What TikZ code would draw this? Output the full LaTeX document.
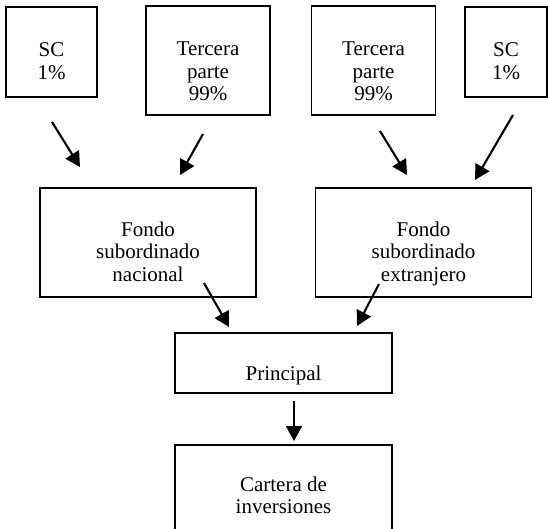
\documentclass[tikz,border=0pt]{standalone}
\usepackage{fontspec}
\setmainfont{Liberation Serif}
\usetikzlibrary{positioning,arrows.meta}

\begin{document}
\begin{tikzpicture}[x=0.5714pt, y=-0.5714pt,
    every node/.style={inner sep=0pt, rectangle},
    box/.style 2 args={draw, line width=0.8pt, minimum width=#1, minimum height=#2},
    txt/.style={align=center, font=\fontsize{12}{13}\selectfont},
    link/.style={line width=1.2pt, -{Triangle[length=8.5pt, width=9pt]}}]
\path[use as bounding box, clip] (0,0) rectangle (548,529);

% top row
\node [box={52pt}{51.4pt}] (sc1) at (51.5,52) {};
\node [box={70.9pt}{62.3pt}] (ter1) at (208,60.5) {};
\node [box={70.9pt}{62.3pt}] (ter2) at (373.5,60.5) {};
\node [box={46.9pt}{51.4pt}] (sc2) at (506,52) {};
\node [txt, below=20.6pt of sc1.north] (sc1txt) {SC\\1\%};
\node [txt, below=20.6pt of ter1.north] (ter1txt) {Tercera\\parte\\99\%};
\node [txt, below=20.6pt of ter2.north] (ter2txt) {Tercera\\parte\\99\%};
\node [txt, below=20.6pt of sc2.north] (sc2txt) {SC\\1\%};

% funds
\node [box={123.4pt}{62.3pt}] (fn) at (148,242.5) {};
\node [box={123.4pt}{62.3pt}] (fe) at (423.5,242.5) {};
\node [txt, below=19.4pt of fn.north] (fntxt) {Fondo\\subordinado\\nacional};
\node [txt, below=19.4pt of fe.north] (fetxt) {Fondo\\subordinado\\extranjero};

% principal and portfolio
\node [box={124pt}{34.3pt}] (pr) at (283.5,363) {};
\node [txt, below=18.9pt of pr.north] (prtxt) {Principal};
\node [box={124pt}{62.3pt}] (ca) at (283.5,499.5) {};
\node [txt, below=18.3pt of ca.north] (catxt) {Cartera de\\inversiones};

% arrows
\coordinate (a1s) at (52,122);  \coordinate (a1e) at (80,167);
\coordinate (a2s) at (203,134); \coordinate (a2e) at (180,175);
\coordinate (a3s) at (380,131); \coordinate (a3e) at (407,175);
\coordinate (a4s) at (513,115); \coordinate (a4e) at (475,180);
\coordinate (a5s) at (204,283); \coordinate (a5e) at (229,327);
\coordinate (a6s) at (379,284); \coordinate (a6e) at (357,326);
\coordinate (a7s) at (294,401); \coordinate (a7e) at (294,441);
\draw [link] (a1s) -- (a1e);
\draw [link] (a2s) -- (a2e);
\draw [link] (a3s) -- (a3e);
\draw [link] (a4s) -- (a4e);
\draw [link] (a5s) -- (a5e);
\draw [link] (a6s) -- (a6e);
\draw [link] (a7s) -- (a7e);

\end{tikzpicture}
\end{document}
